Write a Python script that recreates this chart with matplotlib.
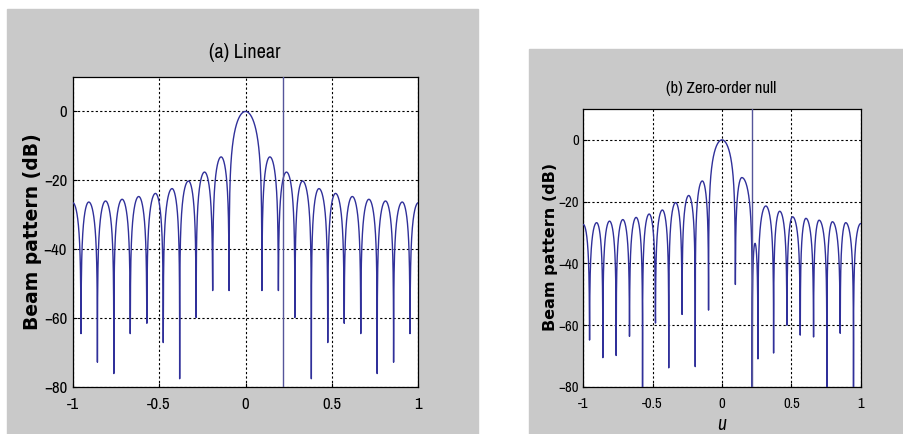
import numpy as np
import matplotlib
matplotlib.use('Agg')
import matplotlib.pyplot as plt
from matplotlib import font_manager
from matplotlib.patches import Rectangle

# Values
# (a) Linear: null positions / depths, lobe peak positions / levels
nulls_u_a = [-0.952, -0.857, -0.762, -0.667, -0.571, -0.476, -0.381, -0.286, -0.190, -0.095,
             0.095, 0.190, 0.286, 0.381, 0.476, 0.571, 0.667, 0.762, 0.857, 0.952]
nulls_db_a = [-64.5, -72.8, -76.1, -64.5, -61.5, -67.1, -77.6, -59.8, -52.0, -52.0,
              -52.0, -52.0, -59.8, -77.6, -67.1, -61.5, -64.5, -76.1, -72.8, -64.5]
peaks_u_a = [-1.0, -0.907, -0.810, -0.714, -0.618, -0.521, -0.425, -0.330, -0.237, -0.141, 0.0,
             0.141, 0.237, 0.330, 0.425, 0.521, 0.618, 0.714, 0.810, 0.907, 1.0]
peaks_db_a = [-26.5, -26.3, -26.0, -25.5, -24.7, -23.8, -22.4, -20.2, -17.6, -13.2, 0.0,
              -13.2, -17.6, -20.2, -22.4, -23.8, -24.7, -25.5, -26.0, -26.3, -26.5]

# (b) Zero-order null (nulls below the axis floor given as -90)
nulls_u_b = [-0.955, -0.859, -0.763, -0.667, -0.573, -0.480, -0.384, -0.288, -0.193, -0.097,
             0.096, 0.218, 0.259, 0.372, 0.468, 0.564, 0.660, 0.756, 0.852, 0.948]
nulls_db_b = [-64.8, -70.5, -69.8, -63.6, -90.0, -59.3, -73.8, -56.5, -73.4, -55.1,
              -46.8, -90.0, -70.9, -69.0, -60.0, -63.2, -63.8, -90.0, -62.6, -90.0]
peaks_u_b = [-1.0, -0.904, -0.811, -0.715, -0.619, -0.525, -0.430, -0.334, -0.240, -0.142, 0.0,
             0.143, 0.238, 0.316, 0.416, 0.509, 0.605, 0.700, 0.796, 0.892, 1.0]
peaks_db_b = [-27.4, -26.8, -26.3, -25.8, -25.1, -24.0, -22.7, -20.3, -18.0, -13.3, 0.0,
              -12.2, -33.5, -21.4, -23.1, -24.9, -25.4, -26.0, -26.5, -26.8, -27.1]

null_dir = 0.217   # vertical marker line
xticks = [-1, -0.5, 0, 0.5, 1]
xticklabels = ['-1', '-0.5', '0', '0.5', '1']
yticks = [-80, -60, -40, -20, 0]

LINE = '#30309a'

# pick a narrow face if one is installed
names = sorted({f.name for f in font_manager.fontManager.ttflist})
narrow = [n for n in names if 'Narrow' in n or 'Condensed' in n]
NARROW = narrow[:1] + ['DejaVu Sans']


def lobe_curve(nu, ndb, pu, pdb, n=240):
    # draw each lobe between two read nulls, peaking at the read peak level
    us, ds = [], []
    for i in range(len(pu)):
        p = pu[i]
        a = nu[i - 1] if i > 0 else None
        b = nu[i] if i < len(nu) else None
        if a is None:
            a = 2 * p - b
        if b is None:
            b = 2 * p - a
        da = ndb[i - 1] if i > 0 else ndb[0]
        db = ndb[i] if i < len(nu) else ndb[-1]
        t = np.linspace(0, 1, n)
        u = np.where(t < 0.5, a + (p - a) * t / 0.5, p + (b - p) * (t - 0.5) / 0.5)
        s = np.clip(np.abs(np.sin(np.pi * t)), 1e-9, None)
        d = pdb[i] + 20 * np.log10(s)
        d = np.where(t < 0.5, np.maximum(d, da), np.maximum(d, db))
        us.append(u)
        ds.append(d)
    return np.concatenate(us), np.concatenate(ds)


def draw_panel(ax, nu, ndb, pu, pdb, fs, ypad):
    u, d = lobe_curve(nu, ndb, pu, pdb)
    ax.plot(u, d, color=LINE, lw=1.0, zorder=3)
    ax.axvline(null_dir, color='#55559a', lw=1.0, zorder=3)
    ax.set_xlim(-1, 1)
    ax.set_ylim(-80, 10)
    ax.set_xticks(xticks)
    ax.set_xticklabels(xticklabels)
    ax.set_yticks(yticks)
    ax.grid(True, color='k', linestyle=(0, (2, 2)), lw=0.8)
    ax.tick_params(direction='in', length=3, labelsize=fs)
    ax.tick_params(axis='x', pad=7)
    ax.tick_params(axis='y', pad=ypad)
    for lab in ax.get_xticklabels() + ax.get_yticklabels():
        lab.set_family(NARROW)
    for s in ax.spines.values():
        s.set_linewidth(0.9)
    ax.set_facecolor('white')


W, H = 904, 434
fig = plt.figure(figsize=(W / 100, H / 100), dpi=100)
fig.patches.append(Rectangle((7 / W, 0), (478 - 7) / W, (H - 9) / H,
                             transform=fig.transFigure, color='#c9c9c9', zorder=-5))
fig.patches.append(Rectangle((529 / W, 0), (W - 529) / W, (H - 49) / H,
                             transform=fig.transFigure, color='#c9c9c9', zorder=-5))

ax1 = fig.add_axes([72.7 / W, 1 - 387 / H, 345.6 / W, 310 / H])
ax2 = fig.add_axes([583.3 / W, 1 - 387 / H, 277.4 / W, 278 / H])

draw_panel(ax1, nulls_u_a, nulls_db_a, peaks_u_a, peaks_db_a, 12, 4)
draw_panel(ax2, nulls_u_b, nulls_db_b, peaks_u_b, peaks_db_b, 10.5, 3)

# titles and labels
fig.text(245 / W, 1 - 52 / H, '(a) Linear', ha='center', va='center', fontsize=14.5, family=NARROW)
fig.text(721 / W, 1 - 88 / H, '(b) Zero-order null', ha='center', va='center', fontsize=12, family=NARROW)
fig.text(33 / W, 1 - 232 / H, 'Beam pattern (dB)', rotation=90, ha='center', va='center',
         fontsize=13.5, fontweight='bold')
fig.text(551 / W, 1 - 247 / H, 'Beam pattern (dB)', rotation=90, ha='center', va='center',
         fontsize=11.5, fontweight='bold')
fig.text(245 / W, 1 - 430 / H, 'u', ha='center', va='top', fontsize=15, style='italic', family=NARROW)
fig.text(722 / W, 1 - 425 / H, 'u', ha='center', va='center', fontsize=14, style='italic', family=NARROW)

fig.savefig('out.png', dpi=100)
